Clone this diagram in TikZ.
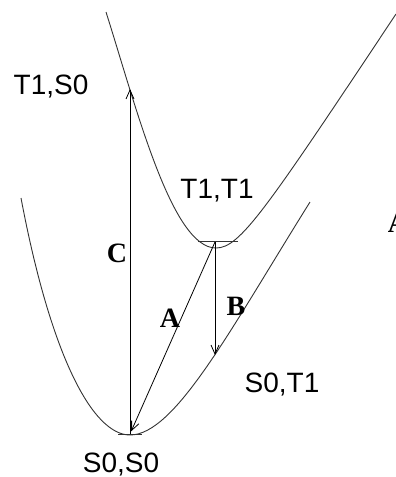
\documentclass[tikz,border=0pt]{standalone}
\usepackage{fontspec}
\setmainfont{Liberation Serif}
\setsansfont{Liberation Sans}
\usetikzlibrary{arrows.meta}

\begin{document}
\begin{tikzpicture}[x=1pt,y=-1pt,
 curve/.style={draw=black!80,line width=0.9pt},
 arr/.style={-{Straight Barb[length=9pt,width=8pt]},line width=0.8pt},
 state/.style={font=\sffamily\fontsize{28}{28}\selectfont,anchor=base,inner sep=0pt},
 tag/.style={font=\bfseries\fontsize{28}{28}\selectfont,anchor=base,inner sep=0pt}]
\useasboundingbox (0,0) rectangle (396,477);
% potential curves
\coordinate (s0s0) at (130,435);
\coordinate (t1t1) at (216,248);
\draw[curve] (21,198) .. controls (51,357) and (93,435) .. (s0s0);
\draw[curve] (s0s0) .. controls (175,435) and (230,330) .. (310,202);
\draw[curve] (106,12) .. controls (137,110) and (172,248) .. (t1t1)
 .. controls (240,248) and (265,211) .. (396,14);
% lowest levels
\draw[curve] (118,434) -- (142,434);
\draw[curve] (198,241) -- (238,241);
\coordinate (low) at (130,434);
\coordinate (up) at (215,242);
\coordinate (ctop) at (130,89);
\coordinate (bend) at (215,355);
% transitions
\draw[arr] (low) -- (ctop);
\draw[arr,shorten >=3pt] (up) -- (low);
\draw[arr] (up) -- (bend);
% labels
\node[state] (lt1s0) at (51,94) {T1,S0};
\node[state] (lt1t1) at (217,198) {T1,T1};
\node[state] (ls0t1) at (282,392) {S0,T1};
\node[state] (ls0s0) at (121,472) {S0,S0};
\node[tag] (lc) at (117,262) {C};
\node[tag] (la) at (170,327) {A};
\node[tag] (lb) at (236,315) {B};
\node[tag] (ledge) at (398,232) {A};
\end{tikzpicture}
\end{document}
